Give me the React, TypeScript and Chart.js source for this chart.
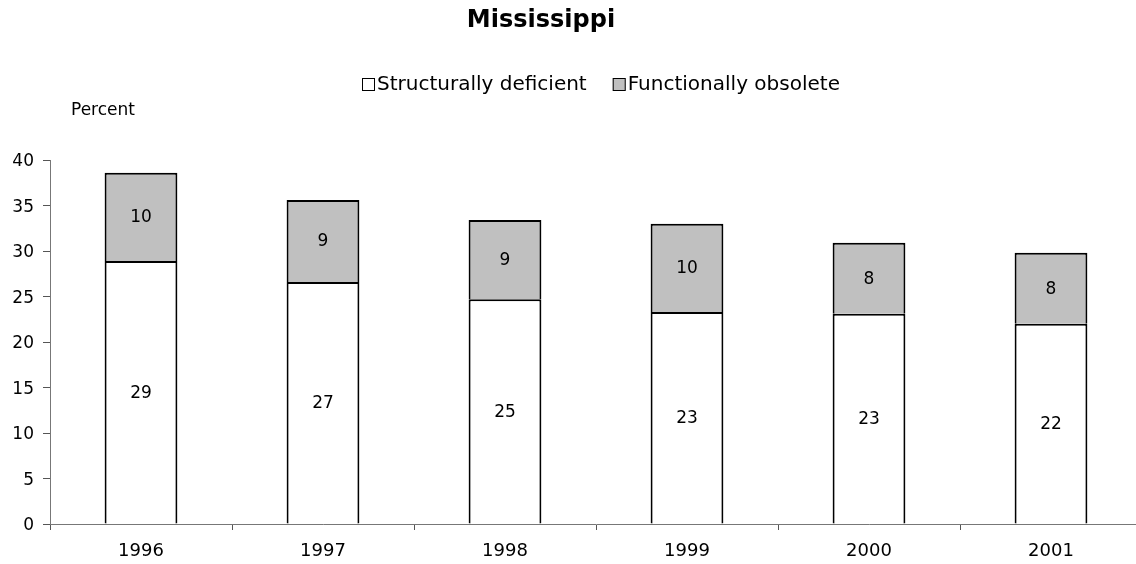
import React, { useEffect, useRef } from "react";
import { Chart, registerables } from "chart.js";

Chart.register(...registerables);

const years = ["1996", "1997", "1998", "1999", "2000", "2001"];
const structurallyDeficient = [28.9, 26.6, 24.7, 23.3, 23.1, 22.0];
const functionallyObsolete = [9.7, 9.0, 8.7, 9.7, 7.8, 7.8];
const yTicks = [0, 5, 10, 15, 20, 25, 30, 35, 40];
const seriesNames = ["Structurally deficient", "Functionally obsolete"];
const titleText = "Mississippi";
const yAxisLabel = "Percent";

const FONT = "'DejaVu Sans', sans-serif";

const overlayPlugin = {
  id: "overlay",
  afterDatasetsDraw(chart: any) {
    const ctx = chart.ctx;
    ctx.save();
    ctx.fillStyle = "#000";
    ctx.textAlign = "center";
    ctx.textBaseline = "middle";
    ctx.font = `17px ${FONT}`;
    chart.data.datasets.forEach((ds: any, di: number) => {
      const meta = chart.getDatasetMeta(di);
      meta.data.forEach((bar: any, i: number) => {
        const v = ds.data[i];
        const mid = (bar.y + bar.base) / 2;
        ctx.fillText(String(Math.round(v)), bar.x, mid + 1);
      });
    });
    ctx.restore();
  },
  afterDraw(chart: any) {
    const ctx = chart.ctx;
    ctx.save();
    ctx.fillStyle = "#000";
    ctx.textBaseline = "middle";
    // title
    ctx.textAlign = "center";
    ctx.font = `bold 24px ${FONT}`;
    ctx.fillText(titleText, 541, 21);
    // axis label
    ctx.textAlign = "left";
    ctx.font = `17px ${FONT}`;
    ctx.fillText(yAxisLabel, 71, 111);
    // legend
    ctx.font = `20px ${FONT}`;
    const fills = ["#ffffff", "#c0c0c0"];
    let x = 362;
    const y = 85;
    seriesNames.forEach((name, i) => {
      ctx.fillStyle = fills[i];
      ctx.fillRect(x, y - 7, 13, 13);
      ctx.strokeStyle = "#000";
      ctx.lineWidth = 1;
      ctx.strokeRect(x + 0.5, y - 6.5, 12, 12);
      ctx.fillStyle = "#000";
      ctx.fillText(name, x + 15, y);
      x += 15 + ctx.measureText(name).width + 26;
    });
    ctx.restore();
  },
};

export default function App() {
  const ref = useRef<HTMLCanvasElement>(null);
  useEffect(() => {
    document.body.style.overflow = "hidden";
    const chart = new Chart(ref.current!, {
      type: "bar",
      data: {
        labels: years,
        datasets: [
          {
            label: seriesNames[0],
            data: structurallyDeficient,
            backgroundColor: "#ffffff",
            borderColor: "#000000",
            borderWidth: 2,
            barPercentage: 0.4,
            categoryPercentage: 1.0,
          },
          {
            label: seriesNames[1],
            data: functionallyObsolete,
            backgroundColor: "#c0c0c0",
            borderColor: "#000000",
            borderWidth: 2,
            barPercentage: 0.4,
            categoryPercentage: 1.0,
          },
        ],
      },
      options: {
        animation: false,
        responsive: false,
        maintainAspectRatio: false,
        layout: { padding: { top: 160, right: 8, left: 0, bottom: 0 } },
        plugins: {
          legend: { display: false },
          title: { display: false },
          tooltip: { enabled: false },
        },
        scales: {
          x: {
            stacked: true,
            offset: true,
            grid: {
              offset: true,
              drawOnChartArea: false,
              drawTicks: true,
              tickLength: 6,
              color: "#555",
            },
            border: { color: "#777", width: 1 },
            ticks: { color: "#000", font: { size: 18, family: FONT }, padding: 11 },
            afterFit(scale: any) {
              scale.height = 40;
            },
          },
          y: {
            stacked: true,
            min: 0,
            max: 40,
            afterBuildTicks(scale: any) {
              scale.ticks = yTicks.map((v) => ({ value: v }));
            },
            grid: {
              drawOnChartArea: false,
              drawTicks: true,
              tickLength: 7,
              color: "#555",
            },
            border: { color: "#777", width: 1 },
            ticks: { color: "#000", font: { size: 17, family: FONT }, padding: 9, labelOffset: 2 },
            afterFit(scale: any) {
              scale.width = 50;
            },
          },
        },
      },
      plugins: [overlayPlugin],
    });
    return () => chart.destroy();
  }, []);
  return (
    <div style={{ position: "fixed", left: 0, top: 0, width: 1150, height: 564 }}>
      <canvas ref={ref} width={1150} height={564} style={{ width: 1150, height: 564 }} />
    </div>
  );
}
